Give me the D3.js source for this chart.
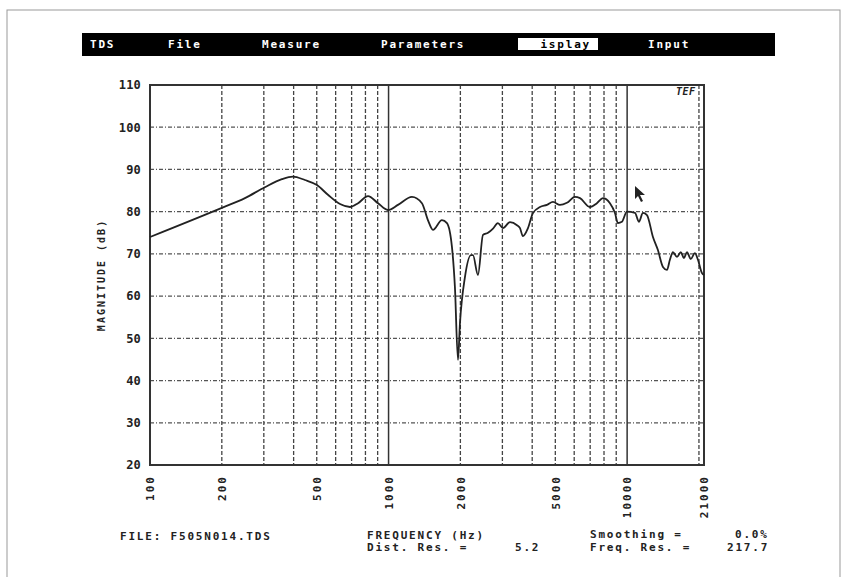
<!DOCTYPE html>
<html>

<head>
    <meta charset='utf-8'>
</head>
<style>
    body {
        margin: 0;
        background: #fff;
    }
    text {
        font-family: 'DejaVu Sans Mono', monospace;
    }
</style>

<body>
    <svg width="847" height="577"></svg>
    <script src="https://d3js.org/d3.v7.min.js"></script>
    <script>
        // Frequency response (Hz, dB)
        var freqs = [100, 200, 250, 303, 357, 397, 446, 501, 557, 626, 689, 745, 820, 903, 994,
            1095, 1253, 1380, 1462, 1535, 1674, 1757, 1844, 1897, 1954, 1992, 2090, 2215, 2258, 2370,
            2488, 2612, 2740, 2872, 3015, 3228, 3454, 3556, 3656, 3840, 4030, 4313, 4613, 4889, 5229,
            5593, 6043, 6345, 6982, 7469, 7917, 8472, 8890, 9150, 9510, 9980, 10790, 11200, 11650,
            12110, 12830, 13460, 14130, 14690, 15110, 15560, 16180, 16800, 17300, 17810, 18500,
            19230, 19810, 20570, 21000];
        var magnitudes = [74.0, 80.9, 83.2, 85.8, 87.7, 88.3, 87.5, 86.3, 84.0, 81.8, 81.1, 82.0, 83.7, 82.0, 80.4,
            81.6, 83.5, 82.0, 78.0, 75.7, 78.0, 77.3, 71.6, 62.2, 44.9, 53.6, 64.5, 69.7, 69.7, 65.0,
            74.5, 75.0, 76.0, 77.3, 76.1, 77.5, 76.8, 76.1, 74.2, 76.1, 79.7, 81.1, 81.6, 82.3, 81.6,
            82.1, 83.5, 83.2, 81.1, 82.0, 83.2, 82.0, 79.7, 77.3, 77.6, 80.0, 79.7, 77.6, 79.7,
            79.2, 74.0, 70.9, 66.9, 66.2, 68.6, 70.4, 69.3, 70.4, 69.0, 70.4, 68.8,
            70.2, 68.6, 65.5, 65.0];

        var xTickLabels = [100, 200, 500, 1000, 2000, 5000, 10000, 21000];
        var yTicks = [20, 30, 40, 50, 60, 70, 80, 90, 100, 110];
        var minorGrid = [200, 300, 400, 500, 600, 700, 800, 900,
            2000, 3000, 4000, 5000, 6000, 7000, 8000, 9000, 20000];
        var majorGrid = [1000, 10000];
        var menuItems = ["TDS", "File", "Measure", "Parameters", "Display", "Input"];

        var svg = d3.select('svg');

        // page frame
        svg.append('rect')
            .attr('x', 7).attr('y', 10)
            .attr('width', 833).attr('height', 580)
            .attr('fill', 'none')
            .attr('stroke', '#999')
            .attr('stroke-width', 1);

        // menu bar
        svg.append('rect')
            .attr('x', 82).attr('y', 33)
            .attr('width', 693).attr('height', 23)
            .attr('fill', '#000');
        var menuX = [90, 168, 262, 381, 532, 648];
        svg.append('rect')
            .attr('x', 518).attr('y', 38)
            .attr('width', 80).attr('height', 12)
            .attr('fill', '#fff');
        var menu = svg.append('g').selectAll('text')
            .data(menuItems).enter().append('text')
            .attr('x', function(d, i) { return menuX[i]; })
            .attr('y', 48)
            .attr('font-size', 11)
            .attr('font-weight', 'bold')
            .attr('letter-spacing', 1.8)
            .attr('fill', function(d) { return d == "Display" ? '#000' : '#fff'; })
            .text(function(d) { return d == "Display" ? null : d; });
        menu.filter(function(d) { return d == "Display"; })
            .each(function(d) {
                var t = d3.select(this);
                t.append('tspan').attr('fill', '#fff').text(d[0]);
                t.append('tspan').text(d.slice(1));
            });

        // plot box (names avoid window.top)
        var pLeft = 150, pRight = 704, pTop = 85, pBottom = 465;
        var x = d3.scaleLog().domain([100, 21000]).range([pLeft, pRight]);
        var y = d3.scaleLinear().domain([20, 110]).range([pBottom, pTop]);

        // grid
        svg.append('g').selectAll('line')
            .data(yTicks.slice(1, -1)).enter().append('line')
            .attr('x1', pLeft).attr('x2', pRight)
            .attr('y1', y).attr('y2', y)
            .attr('stroke', '#555')
            .attr('stroke-width', 1.2)
            .attr('stroke-dasharray', '4,2,1,2');
        svg.append('g').selectAll('line')
            .data(minorGrid).enter().append('line')
            .attr('x1', x).attr('x2', x)
            .attr('y1', pTop).attr('y2', pBottom)
            .attr('stroke', '#444')
            .attr('stroke-width', 1.3)
            .attr('stroke-dasharray', '4,2');
        svg.append('g').selectAll('line')
            .data(majorGrid).enter().append('line')
            .attr('x1', x).attr('x2', x)
            .attr('y1', pTop).attr('y2', pBottom)
            .attr('stroke', '#333')
            .attr('stroke-width', 1.5);

        // plot frame
        svg.append('rect')
            .attr('x', pLeft).attr('y', pTop)
            .attr('width', pRight - pLeft).attr('height', pBottom - pTop)
            .attr('fill', 'none')
            .attr('stroke', '#333')
            .attr('stroke-width', 2);

        // axes (labels only)
        var yAxis = svg.append('g')
            .attr('transform', 'translate(' + pLeft + ',0)')
            .call(d3.axisLeft(y).tickValues(yTicks).tickSize(0).tickPadding(9));
        yAxis.select('.domain').remove();
        yAxis.selectAll('text')
            .attr('font-family', 'DejaVu Sans Mono')
            .attr('font-size', 12)
            .attr('font-weight', 'bold')
            .attr('letter-spacing', 0.2)
            .attr('fill', '#222');

        var xAxis = svg.append('g')
            .attr('transform', 'translate(0,' + pBottom + ')')
            .call(d3.axisBottom(x).tickValues(xTickLabels).tickFormat(d3.format('d')).tickSize(0));
        xAxis.select('.domain').remove();
        xAxis.selectAll('text')
            .attr('font-family', 'DejaVu Sans Mono')
            .attr('font-size', 11)
            .attr('font-weight', 'bold')
            .attr('letter-spacing', 2)
            .attr('fill', '#222')
            .attr('text-anchor', 'end')
            .attr('transform', 'translate(0,10) rotate(-90)')
            .attr('x', 0).attr('y', 0)
            .attr('dy', '0.35em');

        // y title
        svg.append('text')
            .attr('transform', 'translate(101,275) rotate(-90)')
            .attr('text-anchor', 'middle')
            .attr('dy', '0.35em')
            .attr('font-size', 10)
            .attr('font-weight', 'bold')
            .attr('letter-spacing', 2)
            .attr('fill', '#222')
            .text('MAGNITUDE (dB)');

        // response curve
        var line = d3.line()
            .curve(d3.curveMonotoneX)
            .x(function(d) { return x(d[0]); })
            .y(function(d) { return y(d[1]); });
        svg.append('path')
            .datum(d3.zip(freqs, magnitudes))
            .attr('d', line)
            .attr('fill', 'none')
            .attr('stroke', '#222')
            .attr('stroke-width', 1.8)
            .attr('stroke-linejoin', 'round');

        // TEF logo
        svg.append('text')
            .attr('x', 676).attr('y', 95)
            .attr('font-size', 10)
            .attr('font-weight', 'bold')
            .attr('font-style', 'italic')
            .attr('letter-spacing', 0.5)
            .attr('fill', '#222')
            .text('TEF');

        // mouse pointer
        svg.append('path')
            .attr('d', 'M635,186 L635,199 L638,196 L641,202 L643,201 L640,195 L645,195 Z')
            .attr('fill', '#222');

        // footer
        var footer = [
            [120, 540, "FILE: F505N014.TDS"],
            [367, 539, "FREQUENCY (Hz)"],
            [367, 551, "Dist. Res. ="],
            [515, 551, "5.2"],
            [590, 538, "Smoothing ="],
            [735, 538, "0.0%"],
            [590, 551, "Freq. Res. ="],
            [727, 551, "217.7"]
        ];
        svg.append('g').selectAll('text')
            .data(footer).enter().append('text')
            .attr('x', function(d) { return d[0]; })
            .attr('y', function(d) { return d[1]; })
            .attr('font-size', 11)
            .attr('font-weight', 'bold')
            .attr('letter-spacing', 1.8)
            .attr('fill', '#222')
            .text(function(d) { return d[2]; });
    </script>
</body>

</html>
